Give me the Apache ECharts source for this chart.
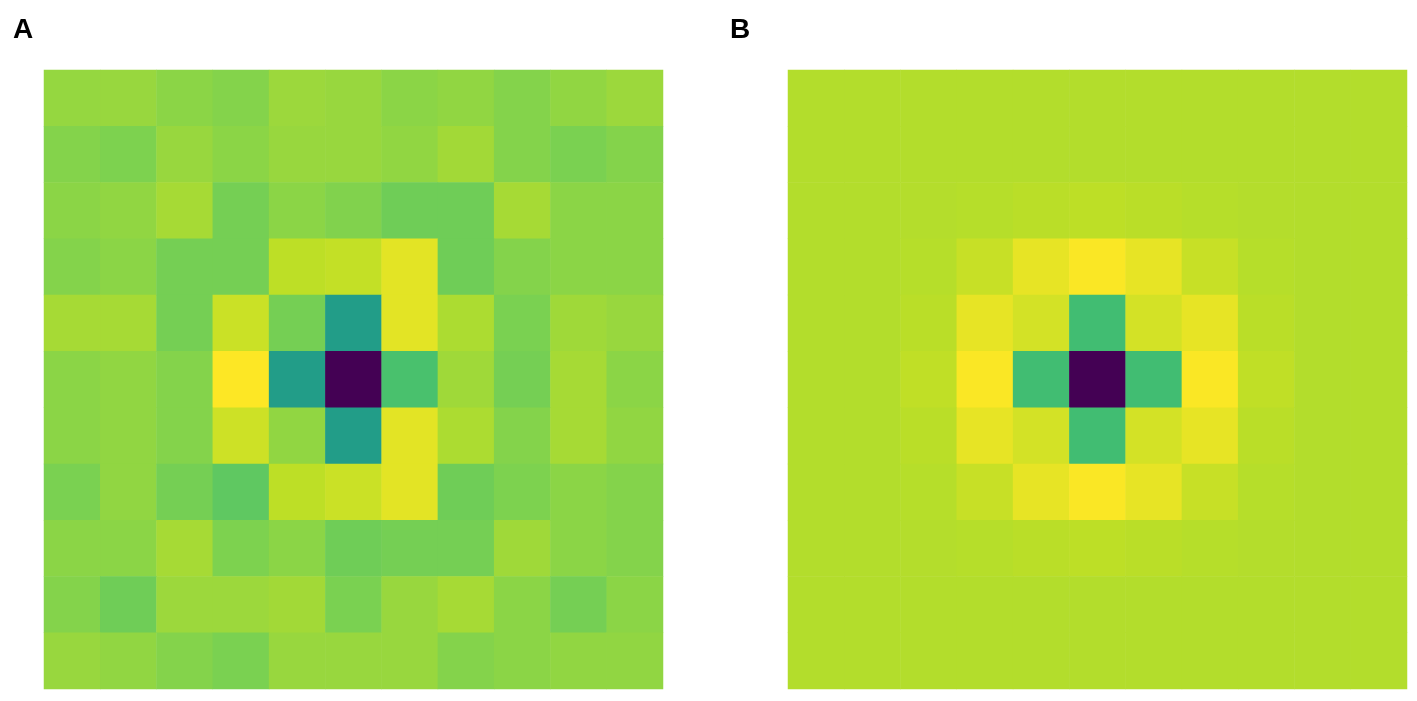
<!DOCTYPE html>
<html>
<head>
<meta charset="utf-8">
<script src="https://cdn.jsdelivr.net/npm/echarts@6/dist/echarts.min.js"></script>
<style>
  html, body { margin: 0; padding: 0; background: #fff; }
  #chart { width: 1417px; height: 701px; }
</style>
</head>
<body>
<div id="chart"></div>
<script>
// 11x11 grid, rows top to bottom
const cells = ['0', '1', '2', '3', '4', '5', '6', '7', '8', '9', '10'];

const panelA = [
  [0.84, 0.845, 0.825, 0.815, 0.85, 0.845, 0.825, 0.835, 0.815, 0.835, 0.85],
  [0.815, 0.805, 0.845, 0.825, 0.845, 0.845, 0.835, 0.86, 0.815, 0.80, 0.815],
  [0.825, 0.835, 0.865, 0.79, 0.825, 0.81, 0.78, 0.78, 0.865, 0.825, 0.825],
  [0.815, 0.825, 0.79, 0.79, 0.90, 0.91, 0.96, 0.78, 0.815, 0.825, 0.825],
  [0.865, 0.865, 0.79, 0.92, 0.79, 0.55, 0.96, 0.875, 0.80, 0.855, 0.845],
  [0.825, 0.835, 0.815, 1.0, 0.55, 0.0, 0.71, 0.855, 0.79, 0.865, 0.825],
  [0.825, 0.835, 0.815, 0.925, 0.835, 0.55, 0.96, 0.875, 0.815, 0.865, 0.835],
  [0.80, 0.835, 0.79, 0.75, 0.90, 0.92, 0.96, 0.78, 0.805, 0.825, 0.815],
  [0.825, 0.825, 0.865, 0.805, 0.825, 0.78, 0.79, 0.79, 0.855, 0.825, 0.815],
  [0.815, 0.78, 0.85, 0.85, 0.86, 0.80, 0.845, 0.865, 0.825, 0.79, 0.825],
  [0.845, 0.835, 0.815, 0.80, 0.845, 0.845, 0.845, 0.815, 0.825, 0.835, 0.835]
];

const panelB = [
  [0.885, 0.885, 0.885, 0.885, 0.885, 0.885, 0.885, 0.885, 0.885, 0.885, 0.885],
  [0.885, 0.885, 0.885, 0.885, 0.885, 0.885, 0.885, 0.885, 0.885, 0.885, 0.885],
  [0.885, 0.885, 0.887, 0.89, 0.895, 0.90, 0.895, 0.89, 0.887, 0.885, 0.885],
  [0.885, 0.885, 0.89, 0.915, 0.965, 0.995, 0.965, 0.915, 0.89, 0.885, 0.885],
  [0.885, 0.885, 0.895, 0.965, 0.935, 0.69, 0.935, 0.965, 0.895, 0.885, 0.885],
  [0.885, 0.885, 0.905, 0.995, 0.69, 0.0, 0.69, 0.995, 0.905, 0.885, 0.885],
  [0.885, 0.885, 0.895, 0.965, 0.935, 0.69, 0.935, 0.965, 0.895, 0.885, 0.885],
  [0.885, 0.885, 0.89, 0.915, 0.965, 0.995, 0.965, 0.915, 0.89, 0.885, 0.885],
  [0.885, 0.885, 0.887, 0.89, 0.895, 0.90, 0.895, 0.89, 0.887, 0.885, 0.885],
  [0.885, 0.885, 0.885, 0.885, 0.885, 0.885, 0.885, 0.885, 0.885, 0.885, 0.885],
  [0.885, 0.885, 0.885, 0.885, 0.885, 0.885, 0.885, 0.885, 0.885, 0.885, 0.885]
];

const viridis = ['#440154', '#482475', '#414487', '#355f8d', '#2a788e', '#21918c',
  '#22a884', '#44bf70', '#7ad151', '#bddf26', '#fde725'];

function toTriples(grid) {
  const out = [];
  grid.forEach((row, r) => row.forEach((v, c) => out.push([c, r, v])));
  return out;
}

const chart = echarts.init(document.getElementById('chart'));

const axisCommon = {
  type: 'category',
  data: cells,
  show: false,
  splitArea: { show: false }
};

const letterStyle = { fontFamily: 'Liberation Sans', fontWeight: 'bold', fontSize: 28, color: '#000' };

chart.setOption({
  animation: false,
  title: [
    { text: 'A', left: 8, top: 11, textStyle: letterStyle },
    { text: 'B', left: 725, top: 11, textStyle: letterStyle }
  ],
  grid: [
    { left: 44, top: 70, width: 619, height: 619 },
    { left: 788, top: 70, width: 619, height: 619 }
  ],
  xAxis: [
    Object.assign({ gridIndex: 0 }, axisCommon),
    Object.assign({ gridIndex: 1 }, axisCommon)
  ],
  yAxis: [
    Object.assign({ gridIndex: 0, inverse: true }, axisCommon),
    Object.assign({ gridIndex: 1, inverse: true }, axisCommon)
  ],
  visualMap: [
    { show: false, seriesIndex: 0, min: 0, max: 1, dimension: 2, inRange: { color: viridis } },
    { show: false, seriesIndex: 1, min: 0, max: 1, dimension: 2, inRange: { color: viridis } }
  ],
  series: [
    { type: 'heatmap', xAxisIndex: 0, yAxisIndex: 0, data: toTriples(panelA), itemStyle: { borderWidth: 0 } },
    { type: 'heatmap', xAxisIndex: 1, yAxisIndex: 1, data: toTriples(panelB), itemStyle: { borderWidth: 0 } }
  ]
});
</script>
</body>
</html>
